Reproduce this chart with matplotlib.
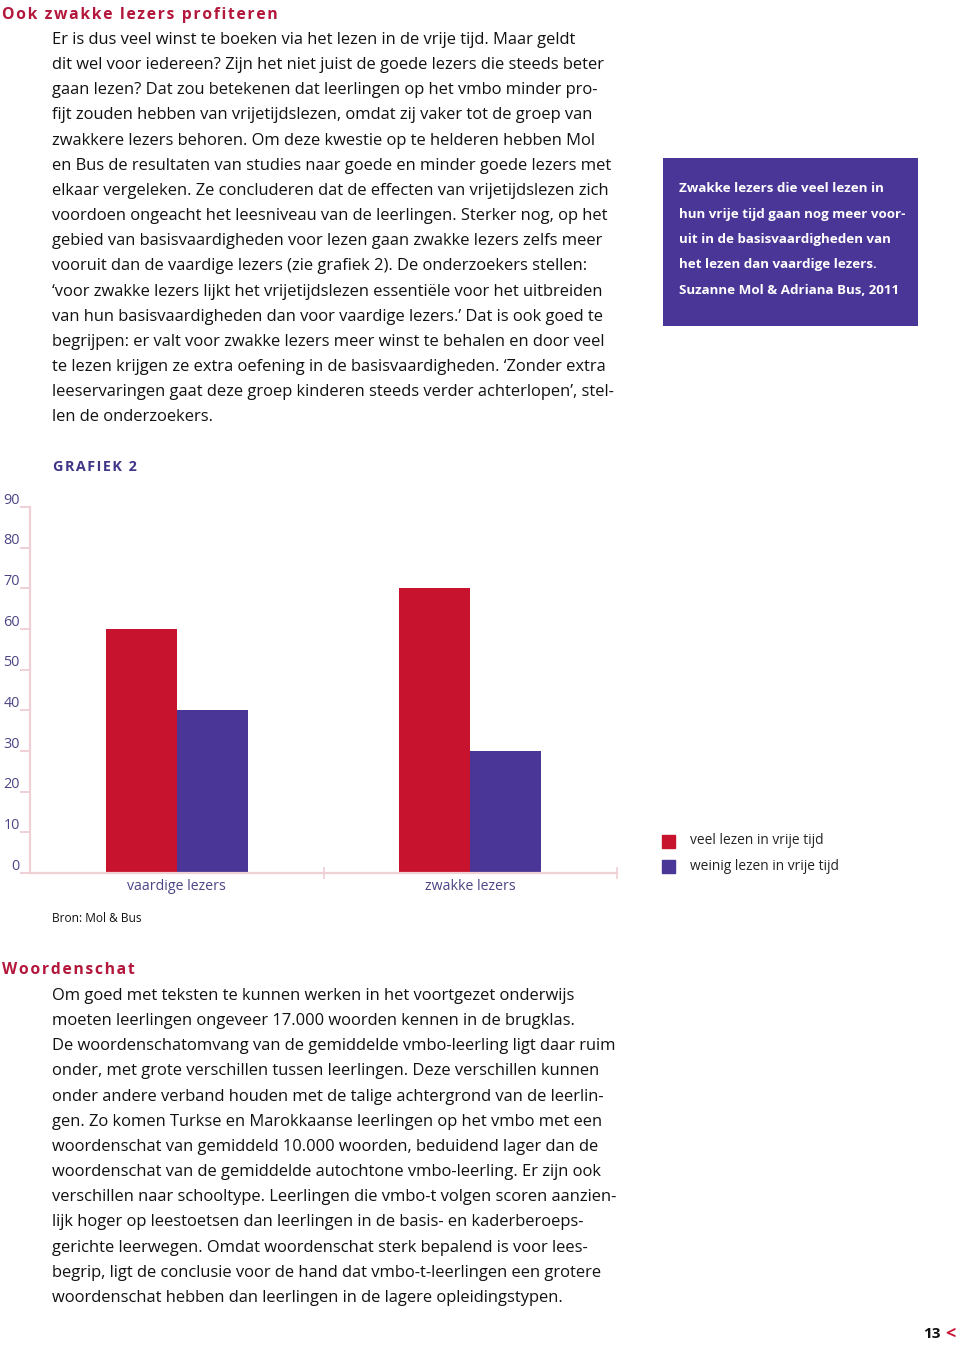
import matplotlib
matplotlib.use("Agg")
import matplotlib.pyplot as plt
from matplotlib.transforms import ScaledTranslation

categories = ["vaardige lezers", "zwakke lezers"]
veel_lezen = [60, 70]
weinig_lezen = [40, 30]
series_labels = ["veel lezen in vrije tijd", "weinig lezen in vrije tijd"]
y_ticks = [0, 10, 20, 30, 40, 50, 60, 70, 80, 90]

RED = "#c8132f"
HEAD_RED = "#b3173c"
PURPLE = "#4a3696"
PINK = "#efd0d5"
AXIS_TXT = "#4b4585"

W, H = 960, 1346
fig = plt.figure(figsize=(W / 100, H / 100), dpi=100)
plt.rcParams["font.family"] = ["Open Sans", "DejaVu Sans"]
BODY = 11.85


def fx(x):
    return x / W


def fy(y):
    return 1 - y / H


def spaced(x, y, s, size, color):
    """letter-spaced heading: hair spaces between the letters"""
    fig.text(fx(x), fy(y), "\u200a".join(s), va="baseline", ha="left",
             fontsize=size, fontweight="bold", color=color)


def para(x, y0, lines, step=25.15, **kw):
    # y0 is the baseline of the first line
    for i, line in enumerate(lines):
        fig.text(fx(x), fy(y0 + i * step), line, va="baseline", ha="left",
                 fontsize=BODY, color="#111111", **kw)


spaced(2, 19, "Ook zwakke lezers profiteren", 11.3, HEAD_RED)

para(52, 44, [
    "Er is dus veel winst te boeken via het lezen in de vrije tijd. Maar geldt",
    "dit wel voor iedereen? Zijn het niet juist de goede lezers die steeds beter",
    "gaan lezen? Dat zou betekenen dat leerlingen op het vmbo minder pro-",
    "fijt zouden hebben van vrijetijdslezen, omdat zij vaker tot de groep van",
    "zwakkere lezers behoren. Om deze kwestie op te helderen hebben Mol",
    "en Bus de resultaten van studies naar goede en minder goede lezers met",
    "elkaar vergeleken. Ze concluderen dat de effecten van vrijetijdslezen zich",
    "voordoen ongeacht het leesniveau van de leerlingen. Sterker nog, op het",
    "gebied van basisvaardigheden voor lezen gaan zwakke lezers zelfs meer",
    "vooruit dan de vaardige lezers (zie grafiek 2). De onderzoekers stellen:",
    "\u2018voor zwakke lezers lijkt het vrijetijdslezen essenti\u00eble voor het uitbreiden",
    "van hun basisvaardigheden dan voor vaardige lezers.\u2019 Dat is ook goed te",
    "begrijpen: er valt voor zwakke lezers meer winst te behalen en door veel",
    "te lezen krijgen ze extra oefening in de basisvaardigheden. \u2018Zonder extra",
    "leeservaringen gaat deze groep kinderen steeds verder achterlopen\u2019, stel-",
    "len de onderzoekers.",
])

# sidebar quote box
box = fig.add_axes([fx(663), fy(326), fx(918) - fx(663), fy(158) - fy(326)])
box.set_facecolor(PURPLE)
box.set_xticks([])
box.set_yticks([])
for sp in box.spines.values():
    sp.set_visible(False)
quote = [
    "Zwakke lezers die veel lezen in",
    "hun vrije tijd gaan nog meer voor-",
    "uit in de basisvaardigheden van",
    "het lezen dan vaardige lezers.",
    "Suzanne Mol & Adriana Bus, 2011",
]
for i, line in enumerate(quote):
    fig.text(fx(679), fy(189 + i * 25.3), line, va="center", ha="left",
             fontsize=9.6, fontweight="bold", color="white")

spaced(53, 471, "GRAFIEK 2", 10.4, "#3f3688")

# chart axes: x 30..617 px, y 873 (0) .. 507 (90)
ax = fig.add_axes([fx(30), fy(873), fx(617) - fx(30), fy(507) - fy(873)])
xs = [0.5, 1.5]
bw = 0.242
ax.bar([x - bw / 2 for x in xs], veel_lezen, width=bw, color=RED,
       label=series_labels[0])
ax.bar([x + bw / 2 for x in xs], weinig_lezen, width=bw, color=PURPLE,
       label=series_labels[1])
ax.set_xlim(0, 2)
ax.set_ylim(0, 90)
for side in ["top", "right"]:
    ax.spines[side].set_visible(False)
for side in ["left", "bottom"]:
    ax.spines[side].set_color(PINK)
    ax.spines[side].set_linewidth(1.6)
ax.set_yticks(y_ticks)
ax.set_yticklabels([str(v) for v in y_ticks])
ax.tick_params(axis="y", length=7.2, width=1.4, color=PINK, pad=0,
               labelsize=10.4, labelcolor=AXIS_TXT)
off = ScaledTranslation(0, 9 / 100, fig.dpi_scale_trans)
for lab in ax.get_yticklabels():
    lab.set_transform(lab.get_transform() + off)
ax.set_xticks([1, 2])
ax.set_xticklabels(["", ""])
ax.tick_params(axis="x", which="major", direction="inout", length=9,
               width=1.2, color=PINK)
ax.set_xticks(xs, minor=True)
ax.set_xticklabels(categories, minor=True)
ax.tick_params(axis="x", which="minor", length=0, pad=4, labelsize=10.2,
               labelcolor=AXIS_TXT)
ax.patch.set_alpha(0)

# legend
for i, (lab, col) in enumerate(zip(series_labels, [RED, PURPLE])):
    yy = 841 + i * 25
    fig.patches.append(plt.Rectangle((fx(662), fy(yy + 6.5)), fx(13),
                                     13 / H, color=col,
                                     transform=fig.transFigure))
    fig.text(fx(690), fy(yy), lab, va="center", ha="left", fontsize=9.9,
             color="#222222")

fig.text(fx(52), fy(918), "Bron: Mol & Bus", va="center", ha="left",
         fontsize=8.6, color="#111111")

spaced(2, 974, "Woordenschat", 11.3, HEAD_RED)

para(52, 1000, [
    "Om goed met teksten te kunnen werken in het voortgezet onderwijs",
    "moeten leerlingen ongeveer 17.000 woorden kennen in de brugklas.",
    "De woordenschatomvang van de gemiddelde vmbo-leerling ligt daar ruim",
    "onder, met grote verschillen tussen leerlingen. Deze verschillen kunnen",
    "onder andere verband houden met de talige achtergrond van de leerlin-",
    "gen. Zo komen Turkse en Marokkaanse leerlingen op het vmbo met een",
    "woordenschat van gemiddeld 10.000 woorden, beduidend lager dan de",
    "woordenschat van de gemiddelde autochtone vmbo-leerling. Er zijn ook",
    "verschillen naar schooltype. Leerlingen die vmbo-t volgen scoren aanzien-",
    "lijk hoger op leestoetsen dan leerlingen in de basis- en kaderberoeps-",
    "gerichte leerwegen. Omdat woordenschat sterk bepalend is voor lees-",
    "begrip, ligt de conclusie voor de hand dat vmbo-t-leerlingen een grotere",
    "woordenschat hebben dan leerlingen in de lagere opleidingstypen.",
])

fig.text(fx(941), fy(1334), "13", va="center", ha="right", fontsize=11,
         fontweight="bold", color="#111111")
fig.text(fx(945), fy(1334), "<", va="center", ha="left", fontsize=13,
         fontweight="bold", color=RED)

fig.savefig("out.png", dpi=100)
